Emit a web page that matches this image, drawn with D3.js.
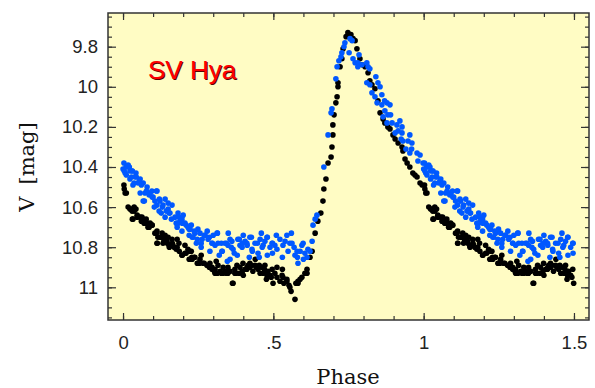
<!DOCTYPE html>
<html>
<head>
<meta charset="utf-8">
<script src="https://cdn.jsdelivr.net/npm/d3@7"></script>
<style>
  body { margin: 0; background: #fff; }
  .tick-label { font-family: "Liberation Sans", Arial, sans-serif; font-size: 18.5px; fill: #222; }
</style>
</head>
<body>
<svg class="chart"></svg>
<script>
// observations: [phase, V mag], folded over one period (0..1)
const blackObs = [
  [0.003,10.49],[0.007,10.53],[0.017,10.60],[0.023,10.61],[0.030,10.62],[0.037,10.60],[0.033,10.66],
  [0.043,10.61],[0.047,10.64],[0.057,10.65],[0.063,10.65],[0.067,10.66],[0.070,10.68],[0.077,10.66],
  [0.080,10.68],[0.083,10.70],[0.090,10.68],[0.096,10.69],[0.106,10.73],[0.113,10.72],[0.113,10.78],
  [0.116,10.75],[0.123,10.75],[0.130,10.73],[0.130,10.75],[0.133,10.78],[0.136,10.77],[0.140,10.74],
  [0.146,10.77],[0.150,10.75],[0.153,10.79],[0.163,10.76],[0.166,10.79],[0.170,10.80],[0.180,10.80],
  [0.186,10.78],[0.196,10.84],[0.206,10.83],[0.216,10.81],[0.223,10.82],[0.223,10.86],[0.229,10.85],
  [0.239,10.85],[0.249,10.88],[0.256,10.86],[0.266,10.88],[0.279,10.89],[0.289,10.88],[0.296,10.91],
  [0.296,10.90],[0.306,10.91],[0.306,10.93],[0.316,10.89],[0.323,10.92],[0.333,10.90],[0.333,10.93],
  [0.339,10.92],[0.349,10.90],[0.349,10.93],[0.356,10.92],[0.366,10.98],[0.372,10.91],[0.372,10.93],
  [0.379,10.89],[0.389,10.90],[0.399,10.88],[0.406,10.91],[0.412,10.91],[0.416,10.89],[0.422,10.90],
  [0.422,10.88],[0.432,10.92],[0.439,10.89],[0.449,10.91],[0.456,10.93],[0.462,10.90],[0.466,10.93],
  [0.472,10.89],[0.479,10.94],[0.482,10.92],[0.489,10.94],[0.496,10.91],[0.499,10.98],[0.505,10.93],
  [0.512,10.95],[0.512,10.90],[0.522,10.97],[0.529,10.94],[0.532,10.95],[0.535,10.98],[0.545,10.96],
  [0.545,10.97],[0.552,10.99],[0.555,11.00],[0.559,11.02],[0.572,11.06],[0.575,10.98],[0.582,10.97],
  [0.582,10.98],[0.589,10.96],[0.595,10.95],[0.605,10.93],[0.612,10.91],[0.612,10.93],[0.622,10.85],
  [0.629,10.82],[0.639,10.73],[0.648,10.67],[0.658,10.63],[0.665,10.57],[0.668,10.51],[0.675,10.46],
  [0.682,10.38],[0.692,10.35],[0.695,10.30],[0.698,10.24],[0.698,10.19],[0.702,10.14],[0.708,10.08],
  [0.712,10.05],[0.715,10.00],[0.715,9.98],[0.722,9.90],[0.728,9.86],[0.732,9.81],[0.742,9.75],
  [0.748,9.73],[0.758,9.74],[0.765,9.76],[0.772,9.77],[0.778,9.81],[0.788,9.86],[0.795,9.89],
  [0.805,9.90],[0.815,9.93],[0.821,9.97],[0.828,9.99],[0.838,10.01],[0.848,10.07],[0.855,10.13],
  [0.865,10.16],[0.871,10.18],[0.881,10.20],[0.888,10.21],[0.898,10.24],[0.905,10.26],[0.915,10.28],
  [0.928,10.30],[0.931,10.32],[0.938,10.36],[0.945,10.38],[0.954,10.40],[0.964,10.43],[0.971,10.44],
  [0.978,10.45],[0.988,10.48],[0.995,10.49],
  [0.004,10.51],[0.011,10.53],[0.028,10.61],[0.037,10.62],[0.031,10.66],[0.047,10.65],[0.061,10.67],
  [0.078,10.68],[0.087,10.70],[0.097,10.69],[0.111,10.73],[0.114,10.78],[0.127,10.75],[0.137,10.76],
  [0.147,10.78],[0.154,10.80],[0.164,10.78],[0.177,10.81],[0.187,10.82],[0.197,10.84],[0.210,10.83],
  [0.220,10.86],[0.237,10.85],[0.247,10.88],[0.227,10.82],[0.230,10.86],[0.254,10.88],[0.270,10.88],
  [0.287,10.90],[0.304,10.92],[0.314,10.93],[0.327,10.93],[0.344,10.93],[0.354,10.92],[0.364,10.98],
  [0.377,10.93],[0.387,10.93],[0.397,10.92],[0.413,10.90],[0.427,10.89],[0.443,10.90],[0.453,10.89],
  [0.470,10.91],[0.480,10.93],[0.493,10.95],[0.477,10.96],
  [0.180,10.76],[0.260,10.84],[0.310,10.87],[0.400,10.94],[0.440,10.86],[0.530,10.91],[0.206,10.79]
];

const blueObs = [
  [0.003,10.38],[0.000,10.41],[0.007,10.43],[0.010,10.40],[0.017,10.39],[0.023,10.42],[0.030,10.42],
  [0.023,10.46],[0.040,10.45],[0.033,10.49],[0.043,10.43],[0.050,10.48],[0.057,10.46],[0.067,10.48],
  [0.057,10.53],[0.073,10.53],[0.080,10.50],[0.090,10.53],[0.067,10.57],[0.096,10.52],[0.113,10.52],
  [0.100,10.55],[0.106,10.57],[0.123,10.57],[0.133,10.59],[0.113,10.59],[0.140,10.56],[0.150,10.61],
  [0.156,10.63],[0.140,10.65],[0.163,10.59],[0.173,10.65],[0.183,10.63],[0.190,10.67],[0.196,10.66],
  [0.183,10.68],[0.206,10.68],[0.196,10.72],[0.216,10.70],[0.223,10.71],[0.239,10.73],[0.233,10.75],
  [0.249,10.71],[0.256,10.73],[0.263,10.76],[0.273,10.74],[0.283,10.76],[0.296,10.78],[0.289,10.82],
  [0.306,10.79],[0.313,10.73],[0.316,10.78],[0.329,10.82],[0.339,10.78],[0.349,10.79],[0.356,10.76],
  [0.362,10.77],[0.366,10.81],[0.356,10.86],[0.382,10.76],[0.389,10.79],[0.396,10.80],[0.406,10.77],
  [0.412,10.78],[0.422,10.75],[0.429,10.81],[0.439,10.78],[0.449,10.83],[0.456,10.76],[0.466,10.79],
  [0.472,10.77],[0.479,10.75],[0.489,10.80],[0.496,10.78],[0.505,10.79],[0.512,10.81],[0.522,10.76],
  [0.532,10.79],[0.539,10.77],[0.545,10.74],[0.549,10.82],[0.555,10.78],[0.562,10.78],[0.569,10.80],
  [0.572,10.84],[0.579,10.82],[0.582,10.88],[0.589,10.82],[0.595,10.79],[0.599,10.78],[0.605,10.83],
  [0.612,10.85],[0.615,10.81],[0.622,10.82],[0.629,10.77],[0.632,10.69],[0.639,10.66],[0.645,10.64],
  [0.668,10.40],[0.682,10.24],[0.692,10.13],[0.695,10.11],[0.708,9.96],[0.712,9.90],[0.718,9.87],
  [0.725,9.85],[0.728,9.83],[0.735,9.80],[0.738,9.78],[0.755,9.76],[0.762,9.77],[0.752,9.83],
  [0.765,9.86],[0.772,9.88],[0.781,9.88],[0.785,9.84],[0.795,9.89],[0.781,9.90],[0.811,9.88],
  [0.815,9.90],[0.821,9.91],[0.811,9.98],[0.821,9.99],[0.841,9.95],[0.848,9.98],[0.828,10.03],
  [0.838,10.05],[0.855,10.00],[0.861,10.04],[0.845,10.08],[0.861,10.09],[0.878,10.08],[0.888,10.09],
  [0.871,10.12],[0.865,10.15],[0.881,10.14],[0.895,10.18],[0.878,10.18],[0.911,10.19],[0.915,10.22],
  [0.905,10.23],[0.928,10.23],[0.931,10.27],[0.948,10.27],[0.941,10.31],[0.954,10.24],[0.921,10.17],
  [0.928,10.20],[0.961,10.28],[0.954,10.33],[0.978,10.33],[0.988,10.34],[0.981,10.37],[0.998,10.38],
  [0.004,10.42],[0.021,10.40],[0.031,10.42],[0.011,10.44],[0.028,10.45],[0.044,10.45],[0.054,10.47],
  [0.061,10.49],[0.037,10.48],[0.078,10.52],[0.087,10.54],[0.111,10.52],[0.097,10.55],[0.121,10.56],
  [0.071,10.57],[0.104,10.60],[0.131,10.60],[0.144,10.62],[0.154,10.63],[0.161,10.66],[0.127,10.63],
  [0.187,10.65],[0.177,10.68],[0.197,10.68],[0.210,10.69],[0.220,10.71],[0.237,10.72],[0.230,10.75],
  [0.244,10.78],[0.227,10.69],[0.247,10.76],[0.260,10.78],[0.270,10.74],[0.287,10.75],[0.297,10.78],
  [0.314,10.73],[0.327,10.78],[0.330,10.82],[0.344,10.78],[0.347,10.87],[0.360,10.80],[0.370,10.83],
  [0.387,10.76],[0.397,10.78],[0.413,10.79],[0.427,10.75],[0.430,10.82],[0.447,10.78],[0.453,10.85],
  [0.463,10.80],[0.480,10.75],[0.497,10.78],[0.497,10.83],
  [0.300,10.74],[0.320,10.84],[0.350,10.73],[0.380,10.84],[0.400,10.74],[0.420,10.85],[0.460,10.73],
  [0.480,10.84],[0.510,10.74],[0.530,10.85],[0.560,10.73],[0.580,10.85],[0.600,10.86],[0.260,10.80],
  [0.280,10.72],[0.120,10.62],[0.150,10.58],[0.180,10.70],[0.200,10.64],[0.220,10.74],[0.890,10.14],
  [0.925,10.26],[0.870,10.07],[0.960,10.31]
];

const yMajorTicks = [9.8, 10, 10.2, 10.4, 10.6, 10.8, 11];
const yLabels = ["9.8", "10", "10.2", "10.4", "10.6", "10.8", "11"];
const xMajorTicks = [0, 0.5, 1, 1.5];
const xLabels = ["0", ".5", "1", "1.5"];
const starName = "SV Hya";

let width = 595, height = 388;
let plot = {left: 108, right: 589, top: 13, bottom: 320};

let svg = d3.select(".chart").attr("width", width).attr("height", height);

let x = d3.scaleLinear().domain([-0.05, 1.55]).range([plot.left, plot.right]);
let y = d3.scaleLinear().domain([9.632, 11.163]).range([plot.top, plot.bottom]);

// each observation is drawn at its phase and again one cycle later
function unfold(obs) {
  let out = [];
  obs.forEach(function(d) {
    out.push(d);
    if (d[0] + 1 <= 1.5) out.push([d[0] + 1, d[1]]);
  });
  return out;
}

svg.append("rect")
  .attr("x", plot.left).attr("y", plot.top)
  .attr("width", plot.right - plot.left).attr("height", plot.bottom - plot.top)
  .attr("fill", "#fffcc4");

/* points */
svg.append("g").selectAll("circle")
  .data(unfold(blackObs))
  .enter().append("circle")
  .attr("cx", d => x(d[0]))
  .attr("cy", d => y(d[1]))
  .attr("r", 2.8)
  .attr("fill", "#000");

svg.append("g").selectAll("circle")
  .data(unfold(blueObs))
  .enter().append("circle")
  .attr("cx", d => x(d[0]))
  .attr("cy", d => y(d[1]))
  .attr("r", 2.8)
  .attr("fill", "#0058ff");

/* axes, ticks pointing inwards on all four sides */
let xMinor = d3.range(0, 1.51, 0.1);
let yMinor = d3.range(9.65, 11.16, 0.05);

function styleAxis(g) {
  g.select(".domain").remove();
  g.selectAll("line").attr("stroke", "#333").attr("stroke-width", 1.2);
  g.selectAll("text").attr("class", "tick-label").attr("font-size", null).attr("font-family", null);
}

svg.append("g").attr("transform", "translate(0," + plot.bottom + ")")
  .call(d3.axisBottom(x).tickValues(xMinor).tickSize(-4).tickFormat(""))
  .call(styleAxis);
svg.append("g").attr("transform", "translate(0," + plot.bottom + ")")
  .call(d3.axisBottom(x).tickValues(xMajorTicks).tickSize(-7).tickPadding(16)
        .tickFormat((d, i) => xLabels[i]))
  .call(styleAxis);
svg.append("g").attr("transform", "translate(0," + plot.top + ")")
  .call(d3.axisTop(x).tickValues(xMinor).tickSize(-4).tickFormat(""))
  .call(styleAxis);
svg.append("g").attr("transform", "translate(0," + plot.top + ")")
  .call(d3.axisTop(x).tickValues(xMajorTicks).tickSize(-7).tickFormat(""))
  .call(styleAxis);

svg.append("g").attr("transform", "translate(" + plot.left + ",0)")
  .call(d3.axisLeft(y).tickValues(yMinor).tickSize(-4).tickFormat(""))
  .call(styleAxis);
svg.append("g").attr("transform", "translate(" + plot.left + ",0)")
  .call(d3.axisLeft(y).tickValues(yMajorTicks).tickSize(-8).tickPadding(10)
        .tickFormat((d, i) => yLabels[i]))
  .call(styleAxis);
svg.append("g").attr("transform", "translate(" + plot.right + ",0)")
  .call(d3.axisRight(y).tickValues(yMinor).tickSize(-4).tickFormat(""))
  .call(styleAxis);
svg.append("g").attr("transform", "translate(" + plot.right + ",0)")
  .call(d3.axisRight(y).tickValues(yMajorTicks).tickSize(-8).tickFormat(""))
  .call(styleAxis);

svg.append("rect")
  .attr("x", plot.left).attr("y", plot.top)
  .attr("width", plot.right - plot.left).attr("height", plot.bottom - plot.top)
  .attr("fill", "none").attr("stroke", "#333").attr("stroke-width", 1.5);

/* axis titles */
svg.append("text").text("Phase")
  .attr("x", 348).attr("y", 384)
  .attr("text-anchor", "middle")
  .style("font-family", "'DejaVu Serif', serif")
  .style("font-size", "21px")
  .attr("fill", "#111");

let yTitle = svg.append("text")
  .attr("transform", "translate(34,167) rotate(-90)")
  .attr("text-anchor", "middle")
  .style("font-family", "'DejaVu Serif', serif")
  .style("font-size", "21px")
  .attr("fill", "#111");
yTitle.append("tspan").text("V");
yTitle.append("tspan").attr("dx", 12).text("[mag]");

/* star name */
svg.append("text").text(starName)
  .attr("x", 149).attr("y", 80)
  .style("font-family", "'Liberation Sans', Arial, sans-serif")
  .style("font-size", "26px")
  .attr("fill", "#5a0000");
svg.append("text").text(starName)
  .attr("x", 148).attr("y", 79)
  .style("font-family", "'Liberation Sans', Arial, sans-serif")
  .style("font-size", "26px")
  .attr("fill", "#ff0000");
</script>
</body>
</html>
